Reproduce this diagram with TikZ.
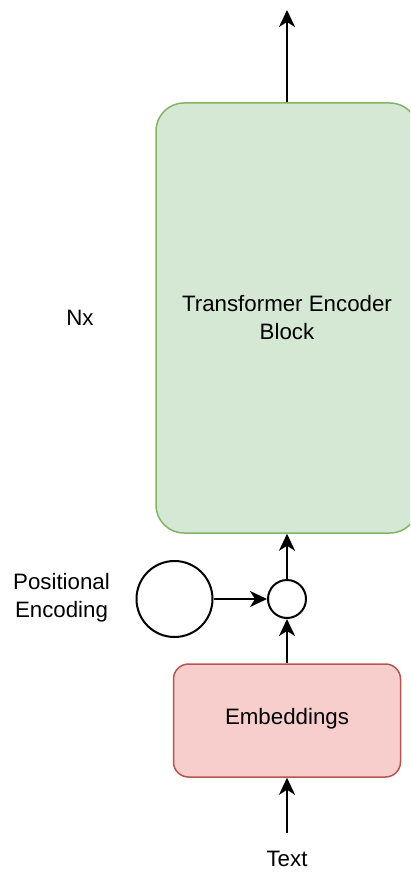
\documentclass[tikz,border=0pt]{standalone}
\usepackage{fontspec}
\setmainfont{Liberation Sans}
\usetikzlibrary{arrows.meta}
\definecolor{encfill}{HTML}{D5E8D4}
\definecolor{encline}{HTML}{82B366}
\definecolor{embfill}{HTML}{F8CECC}
\definecolor{embline}{HTML}{B85450}
\tikzset{
  lbl/.style={font=\fontsize{22.3}{28}\selectfont, align=center, inner sep=0pt},
  flow/.style={line width=2pt, -{Stealth[length=17pt,width=16pt,inset=5pt]}},
  blockbox/.style={draw=encline, fill=encfill, line width=1.5pt, rounded corners=28pt,
    minimum width=262pt, minimum height=430pt, inner sep=0pt},
  embbox/.style={draw=embline, fill=embfill, line width=1.5pt, rounded corners=15pt,
    minimum width=227pt, minimum height=113pt, inner sep=0pt},
  ring/.style={draw=black, fill=white, line width=2pt, circle, inner sep=0pt}
}
\begin{document}
\begin{tikzpicture}[x=1pt,y=-1pt]
\useasboundingbox (0,0) rectangle (410,872);
\clip (0,0) rectangle (410,872);

% encoder stack
\node[blockbox] (enc) at (287,318) {};
\node[lbl] (enctext) at (287,318) {Transformer Encoder\\Block};
\node[lbl] (nx) at (80,318) {Nx};

% positional encoding and sum
\node[ring, minimum size=76pt] (pe) at (174.5,599) {};
\node[ring, minimum size=38pt] (sum) at (287,599) {};
\node[lbl] (petext) at (61.5,598) {Positional\\Encoding};

% embeddings
\node[embbox] (emb) at (287,720.5) {};
\node[lbl] (embtext) at (287,719) {Embeddings};

% input text
\node[lbl] (txt) at (287,859) {Text};
\coordinate (txtout) at (287,833);
\coordinate (out) at (287,10);

% connectors
\draw[flow] (enc.north) -- (out);
\draw[flow] (pe.east) -- (sum.west);
\draw[flow] (sum.north) -- (enc.south);
\draw[flow] (emb.north) -- (sum.south);
\draw[flow] (txtout) -- (emb.south);
\end{tikzpicture}
\end{document}
